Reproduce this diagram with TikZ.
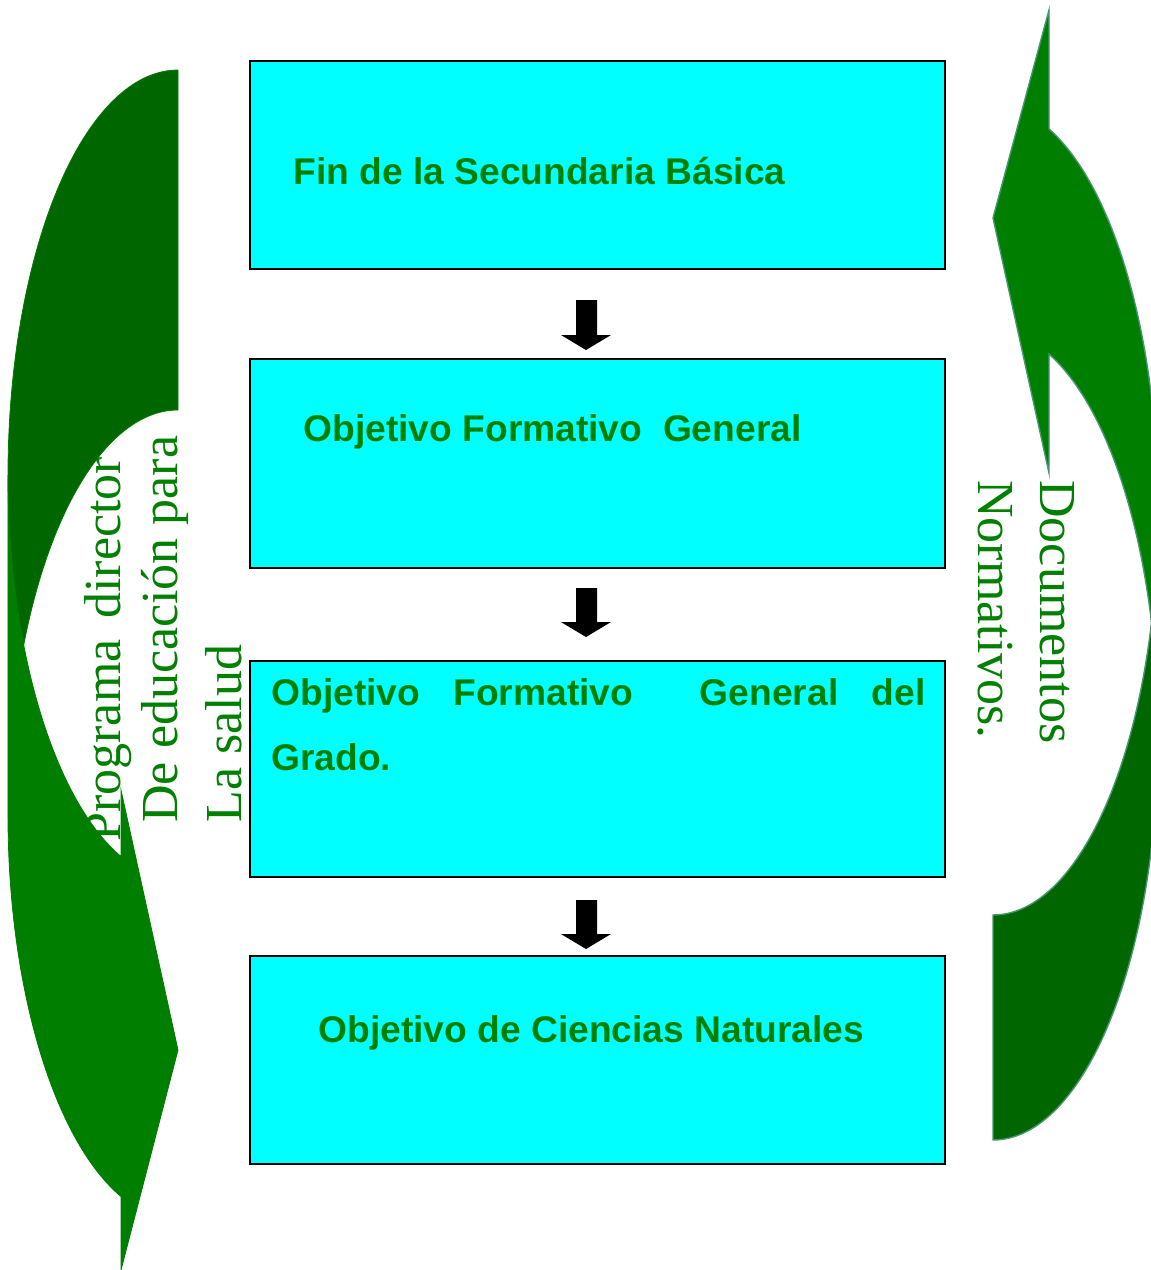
\documentclass[tikz,border=0pt]{standalone}
\usepackage{fontspec}
\setmainfont{Liberation Serif}
\newfontfamily\arialfont{Liberation Sans}
\definecolor{cyanbox}{RGB}{0,255,255}
\definecolor{txtgreen}{RGB}{0,128,0}
\definecolor{lightarrow}{RGB}{0,126,0}
\definecolor{darkarrow}{RGB}{0,102,0}
\definecolor{edgegreen}{RGB}{70,150,110}
\begin{document}
\begin{tikzpicture}[x=0.5pt,y=-0.5pt,
  box/.style={draw=black, line width=1pt, fill=cyanbox, inner sep=0pt},
  boxtext/.style={anchor=base west, inner sep=0pt, text=txtgreen,
    font=\arialfont\bfseries\fontsize{18.6pt}{22pt}\selectfont},
  sidetext/.style={anchor=base west, inner sep=0pt, text=txtgreen,
    font=\fontsize{26pt}{30pt}\selectfont},
  blockarrow/.style={fill=black},
  leftlight/.style={fill=lightarrow, draw=lightarrow, line width=0.4pt},
  leftdark/.style={fill=darkarrow, draw=lightarrow, line width=0.4pt},
  rightlight/.style={fill=lightarrow, draw=edgegreen, line width=0.7pt},
  rightdark/.style={fill=darkarrow, draw=edgegreen, line width=0.7pt},
]
\useasboundingbox (0,0) rectangle (1151,1270);
\clip (0,0) rectangle (1151,1270);

% boxes
\node[box, minimum width=347.5pt, minimum height=104pt] (b1) at (597.5,165) {};
\node[box, minimum width=347.5pt, minimum height=104.5pt] (b2) at (597.5,463.5) {};
\node[box, minimum width=347.5pt, minimum height=108pt] (b3) at (597.5,769) {};
\node[box, minimum width=347.5pt, minimum height=104pt] (b4) at (597.5,1060) {};

% box texts
\node[boxtext] (t1) at (293,184) {Fin de la Secundaria Básica};
\node[boxtext] (t2) at (303,441) {Objetivo Formativo\ \ General};
\node[boxtext] (t3a) at (271,705) {\hbox to 327pt{Objetivo\hfill Formativo\hfill\hfill General\hfill del}};
\node[boxtext] (t3b) at (271,770) {Grado.};
\node[boxtext] (t4) at (318,1042) {Objetivo de Ciencias Naturales};

% block arrows between boxes
\fill[blockarrow] (576,300) -- (597,300) -- (597,335) -- (611,335) -- (586,350) -- (561,335) -- (576,335) -- cycle;
\fill[blockarrow] (576,588) -- (597,588) -- (597,622) -- (611,622) -- (586,637) -- (561,622) -- (576,622) -- cycle;
\fill[blockarrow] (576,900) -- (597,900) -- (597,934) -- (611,934) -- (586,949) -- (561,934) -- (576,934) -- cycle;

% left side text (under the arrow)
\node[sidetext, rotate=90] (l1) at (120,842) {Programa\hspace{4pt} director};
\node[sidetext, rotate=90] (l2) at (177,823) {De educación para};
\node[sidetext, rotate=90] (l3) at (241,823) {La salud};

% left curved arrow
\path[leftlight] (8,475) arc[start angle=180, end angle=109.59, x radius=170, y radius=405]
  -- (121,790) -- (178,1050) -- (121,1270) -- (121,1196.6)
  arc[start angle=109.59, end angle=180, x radius=170, y radius=405] -- cycle;
\path[leftdark] (178,70) arc[start angle=270, end angle=155.18, x radius=170, y radius=405]
  arc[start angle=204.82, end angle=270, x radius=170, y radius=405] -- cycle;

% right curved arrow
\path[rightlight] (1158,735) arc[start angle=0, end angle=-70.16, x radius=165, y radius=405]
  -- (1049,473) -- (993,218) -- (1049,10) -- (1049,129)
  arc[start angle=-70.16, end angle=0, x radius=165, y radius=405] -- cycle;
\path[rightdark] (993,1140) arc[start angle=90, end angle=-16.13, x radius=165, y radius=405]
  arc[start angle=16.13, end angle=90, x radius=165, y radius=405] -- cycle;

% right side text
\node[sidetext, rotate=-90] (r1) at (1040,480) {Documentos};
\node[sidetext, rotate=-90] (r2) at (978,480) {Normativos.};
\end{tikzpicture}
\end{document}
